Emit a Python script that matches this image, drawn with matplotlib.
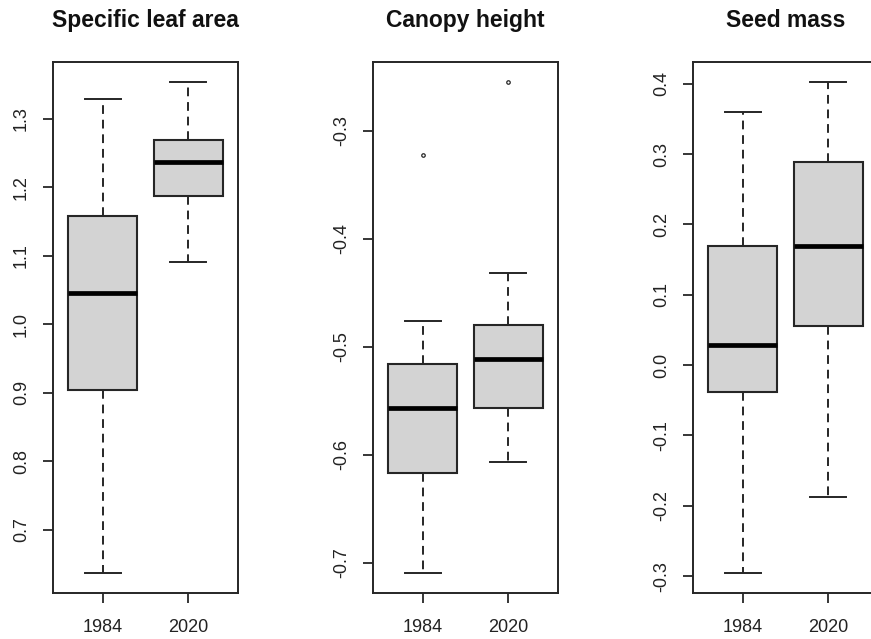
import matplotlib
matplotlib.use("Agg")
import matplotlib.pyplot as plt
from matplotlib.ticker import MultipleLocator, FormatStrFormatter

plt.rcParams['font.family'] = ['Liberation Sans', 'DejaVu Sans']
plt.rcParams['axes.unicode_minus'] = False

years = ["1984", "2020"]
titles = ["Specific leaf area", "Canopy height", "Seed mass"]

# five-number summaries: [1984, 2020]
sla_whislo = [0.636, 1.090]
sla_q1 = [0.904, 1.187]
sla_med = [1.045, 1.236]
sla_q3 = [1.158, 1.269]
sla_whishi = [1.328, 1.354]
sla_fliers = [[], []]

ch_whislo = [-0.710, -0.607]
ch_q1 = [-0.617, -0.557]
ch_med = [-0.557, -0.511]
ch_q3 = [-0.516, -0.480]
ch_whishi = [-0.476, -0.4315]
ch_fliers = [[-0.322], [-0.2545]]

sm_whislo = [-0.296, -0.187]
sm_q1 = [-0.038, 0.055]
sm_med = [0.028, 0.170]
sm_q3 = [0.170, 0.289]
sm_whishi = [0.360, 0.403]
sm_fliers = [[], []]

panels = [
    (sla_whislo, sla_q1, sla_med, sla_q3, sla_whishi, sla_fliers),
    (ch_whislo, ch_q1, ch_med, ch_q3, ch_whishi, ch_fliers),
    (sm_whislo, sm_q1, sm_med, sm_q3, sm_whishi, sm_fliers),
]

fig = plt.figure(figsize=(8.71, 6.39), dpi=100)
lefts = [53, 373, 693]
ink = "#262626"

for i, (lo, q1, med, q3, hi, fl) in enumerate(panels):
    ax = fig.add_axes([lefts[i] / 871, 46 / 639, 185 / 871, 531 / 639])
    stats = []
    for j in range(2):
        stats.append({"label": years[j], "whislo": lo[j], "q1": q1[j], "med": med[j],
                      "q3": q3[j], "whishi": hi[j], "fliers": fl[j]})
    ax.bxp(stats, positions=[1, 2], widths=0.8, capwidths=0.42, patch_artist=True,
           boxprops=dict(facecolor="#d3d3d3", edgecolor=ink, linewidth=1.5),
           medianprops=dict(color="black", linewidth=3.4, solid_capstyle="butt"),
           whiskerprops=dict(color=ink, linewidth=1.4, linestyle=(0, (4.5, 3))),
           capprops=dict(color=ink, linewidth=1.4),
           flierprops=dict(marker="o", markersize=2.5, markerfacecolor="none",
                           markeredgecolor=ink, markeredgewidth=0.9))

    allv = lo + hi + [v for f in fl for v in f]
    ymin, ymax = min(allv), max(allv)
    ext = (ymax - ymin) * 0.04
    ax.set_ylim(ymin - ext, ymax + ext)
    ax.set_xlim(0.42, 2.58)
    ax.yaxis.set_major_locator(MultipleLocator(0.1))
    ax.yaxis.set_major_formatter(FormatStrFormatter("%.1f"))
    ax.set_xticks([1, 2])
    ax.set_xticklabels(years)
    for lab in ax.get_yticklabels():
        lab.set_rotation(90)
        lab.set_va("center")
    ax.tick_params(axis="both", length=7.5, width=1.3, color=ink, labelsize=13,
                   labelcolor="#222222")
    ax.tick_params(axis="x", pad=11)
    ax.tick_params(axis="y", pad=9)
    for s in ax.spines.values():
        s.set_color(ink)
        s.set_linewidth(1.4)
    if i == 2:
        # the last panel runs off the right edge of the picture
        ax.spines["right"].set_visible(False)
    ax.set_title(titles[i], fontsize=16.5, fontweight="bold", pad=25, color="#111111")

fig.savefig("out.png", dpi=100)
